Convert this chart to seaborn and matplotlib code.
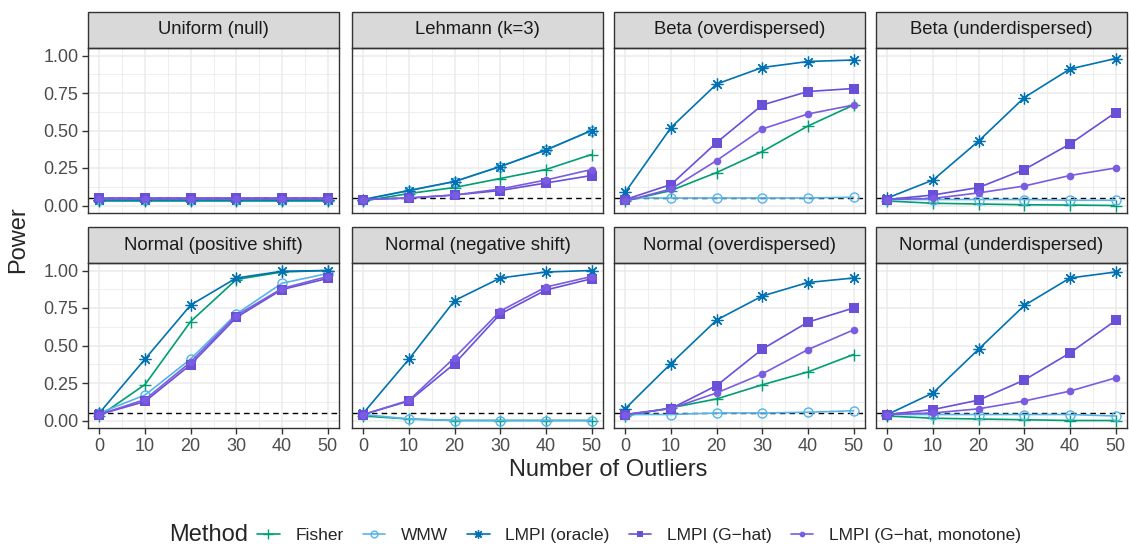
import numpy as np
import pandas as pd
import seaborn as sns
from matplotlib import pyplot as plt
from matplotlib.lines import Line2D
from matplotlib.patches import Rectangle
from matplotlib.ticker import MultipleLocator

n_outliers = [0, 10, 20, 30, 40, 50]
methods = ["Fisher", "WMW", "LMPI (oracle)", "LMPI (G\u2212hat)", "LMPI (G\u2212hat, monotone)"]
scenarios = [
    "Uniform (null)", "Lehmann (k=3)", "Beta (overdispersed)", "Beta (underdispersed)",
    "Normal (positive shift)", "Normal (negative shift)", "Normal (overdispersed)", "Normal (underdispersed)",
]

# power per scenario, one list per method (order as in `methods`)
uniform_null = [
    [0.03, 0.03, 0.03, 0.03, 0.03, 0.03],
    [0.04, 0.04, 0.04, 0.04, 0.04, 0.04],
    [0.04, 0.04, 0.04, 0.04, 0.04, 0.04],
    [0.05, 0.05, 0.05, 0.05, 0.05, 0.05],
    [0.045, 0.045, 0.045, 0.045, 0.045, 0.045],
]
lehmann_k3 = [
    [0.03, 0.08, 0.12, 0.18, 0.24, 0.34],
    [0.04, 0.10, 0.16, 0.26, 0.37, 0.50],
    [0.04, 0.10, 0.16, 0.26, 0.37, 0.50],
    [0.04, 0.05, 0.07, 0.10, 0.15, 0.20],
    [0.04, 0.05, 0.07, 0.11, 0.17, 0.24],
]
beta_over = [
    [0.03, 0.10, 0.22, 0.36, 0.53, 0.67],
    [0.05, 0.05, 0.05, 0.05, 0.05, 0.055],
    [0.09, 0.52, 0.81, 0.92, 0.96, 0.97],
    [0.04, 0.14, 0.42, 0.67, 0.76, 0.78],
    [0.03, 0.11, 0.30, 0.51, 0.61, 0.67],
]
beta_under = [
    [0.03, 0.015, 0.01, 0.005, 0.003, 0.0],
    [0.04, 0.04, 0.04, 0.04, 0.035, 0.035],
    [0.05, 0.17, 0.43, 0.72, 0.91, 0.98],
    [0.04, 0.07, 0.12, 0.24, 0.41, 0.62],
    [0.04, 0.047, 0.084, 0.13, 0.20, 0.25],
]
normal_pos = [
    [0.03, 0.24, 0.66, 0.94, 0.99, 1.0],
    [0.05, 0.17, 0.41, 0.71, 0.915, 0.98],
    [0.05, 0.41, 0.77, 0.95, 0.995, 1.0],
    [0.04, 0.127, 0.373, 0.687, 0.873, 0.947],
    [0.04, 0.14, 0.39, 0.70, 0.88, 0.96],
]
normal_neg = [
    [0.03, 0.01, 0.0, 0.0, 0.0, 0.0],
    [0.04, 0.01, 0.0, 0.0, 0.0, 0.0],
    [0.05, 0.41, 0.80, 0.95, 0.99, 1.0],
    [0.04, 0.13, 0.38, 0.71, 0.87, 0.945],
    [0.04, 0.135, 0.42, 0.73, 0.89, 0.96],
]
normal_over = [
    [0.03, 0.085, 0.144, 0.238, 0.324, 0.44],
    [0.04, 0.04, 0.05, 0.05, 0.055, 0.065],
    [0.08, 0.38, 0.67, 0.83, 0.92, 0.95],
    [0.04, 0.08, 0.233, 0.476, 0.656, 0.75],
    [0.04, 0.08, 0.184, 0.311, 0.473, 0.604],
]
normal_under = [
    [0.03, 0.015, 0.01, 0.005, 0.0, 0.0],
    [0.04, 0.04, 0.04, 0.04, 0.04, 0.03],
    [0.04, 0.184, 0.476, 0.767, 0.95, 0.99],
    [0.04, 0.073, 0.136, 0.27, 0.45, 0.667],
    [0.04, 0.05, 0.078, 0.13, 0.196, 0.284],
]
power_tables = [uniform_null, lehmann_k3, beta_over, beta_under,
                normal_pos, normal_neg, normal_over, normal_under]

colors = {
    methods[0]: "#009E73",
    methods[1]: "#56B4E9",
    methods[2]: "#0072B2",
    methods[3]: "#6A4FD8",
    methods[4]: "#7A5CE0",
}


def marker_kw(meth, scale=1.0):
    col = colors[meth]
    if meth == methods[0]:
        return dict(marker="+", markersize=9 * scale, markeredgewidth=1.0, markeredgecolor=col)
    if meth == methods[1]:
        return dict(marker="o", markersize=6.5 * scale, markerfacecolor="none",
                    markeredgewidth=1.0, markeredgecolor=col)
    if meth == methods[2]:
        return dict(marker=(8, 2, 0), markersize=8.5 * scale, markeredgewidth=0.9,
                    markeredgecolor=col)
    if meth == methods[3]:
        return dict(marker="s", markersize=6.5 * scale, markeredgewidth=0, markerfacecolor=col)
    return dict(marker="o", markersize=5.5 * scale, markeredgewidth=0, markerfacecolor=col)


rows = []
for scen, table in zip(scenarios, power_tables):
    for meth, vals in zip(methods, table):
        for x, y in zip(n_outliers, vals):
            rows.append({"scenario": scen, "Method": meth, "n_outliers": x, "power": y})
df = pd.DataFrame(rows)

sns.set_style("white")
plt.rcParams["font.family"] = ["Liberation Sans", "DejaVu Sans"]

W, H = 1129, 544
fig = plt.figure(figsize=(W / 100, H / 100), dpi=100)
lefts = [88, 352, 614, 876]
pw = 251
tops = [48, 263]
ph = 165
strip_h = 36

for i, scen in enumerate(scenarios):
    r, c = divmod(i, 4)
    ax = fig.add_axes([lefts[c] / W, 1 - (tops[r] + ph) / H, pw / W, ph / H])
    ax.set_xlim(-2.5, 52.5)
    ax.set_ylim(-0.05, 1.05)
    ax.xaxis.set_major_locator(MultipleLocator(10))
    ax.xaxis.set_minor_locator(MultipleLocator(5))
    ax.yaxis.set_major_locator(MultipleLocator(0.25))
    ax.yaxis.set_minor_locator(MultipleLocator(0.125))
    ax.grid(which="major", color="#EBEBEB", linewidth=1.1)
    ax.grid(which="minor", color="#EBEBEB", linewidth=0.6)
    ax.set_axisbelow(True)
    for s in ax.spines.values():
        s.set_color("#333333")
        s.set_linewidth(1.0)

    ax.axhline(0.05, color="black", linestyle=(0, (4, 3)), linewidth=1.0, zorder=1)
    sub = df[df["scenario"] == scen]
    for meth in methods:
        sns.lineplot(data=sub[sub["Method"] == meth], x="n_outliers", y="power",
                     color=colors[meth], linewidth=1.2, ax=ax, legend=False,
                     **marker_kw(meth))

    ax.set_xlabel("")
    ax.set_ylabel("")
    ax.tick_params(axis="both", which="major", length=4, width=1.0, color="#333333",
                   labelcolor="#4D4D4D", labelsize=13, pad=3)
    ax.tick_params(axis="both", which="minor", length=0)
    ax.tick_params(left=(c == 0), bottom=(r == 1), labelleft=(c == 0), labelbottom=(r == 1))
    ax.set_yticks([0, 0.25, 0.5, 0.75, 1.0])
    ax.set_yticklabels(["0.00", "0.25", "0.50", "0.75", "1.00"])

    ax.add_patch(Rectangle((0, 1), 1, strip_h / ph, transform=ax.transAxes, clip_on=False,
                           facecolor="#D9D9D9", edgecolor="#333333", linewidth=1.0))
    ax.text(0.5, 1 + strip_h / ph / 2, scen, transform=ax.transAxes, ha="center",
            va="center", fontsize=13.3, color="#1A1A1A")

fig.text(18 / W, 1 - 240 / H, "Power", rotation=90, ha="center", va="center", fontsize=17)
fig.text(608 / W, 1 - 470 / H, "Number of Outliers", ha="center", va="center", fontsize=17)

handles = [Line2D([0], [0], color=colors[m], linewidth=1.2, **marker_kw(m, 0.75)) for m in methods]
fig.text(209 / W, 1 - 535 / H, "Method", ha="center", va="center", fontsize=17)
fig.legend(handles, methods, loc="center", bbox_to_anchor=(639 / W, 1 - 535 / H), ncol=5,
           frameon=False, fontsize=12.5, handlelength=1.3, columnspacing=1.1, handletextpad=0.9)

fig.savefig("out.png", dpi=100)
